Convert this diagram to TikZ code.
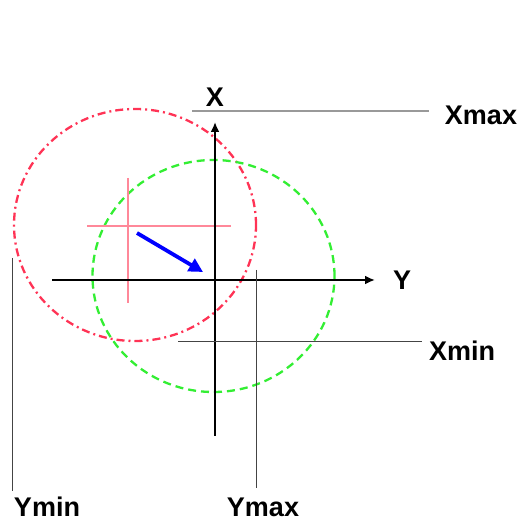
\documentclass[tikz,border=0pt]{standalone}
\usepackage{fontspec}
\setmainfont{Liberation Sans}
\usetikzlibrary{arrows.meta}
\definecolor{colRed}{HTML}{ff3355}
\definecolor{colCross}{HTML}{ff8899}
\definecolor{colGreen}{HTML}{33ee33}
\definecolor{colBlue}{HTML}{0000ff}
\definecolor{limcol}{HTML}{444444}
\definecolor{topcol}{HTML}{999999}
\begin{document}
\begin{tikzpicture}[x=1pt, y=1pt,
    lbl/.style={font=\fontsize{27}{30}\selectfont\bfseries, text=black, inner sep=0pt},
    axisline/.style={black, line width=2.8pt, -{Latex[length=10pt, width=9pt]}},
    limline/.style={limcol, line width=0.9pt}]
    \useasboundingbox (0,0) rectangle (519,524);
    % circles
    \draw[colRed, line width=2.3pt, dash pattern=on 8pt off 4pt on 2pt off 4pt]
      (135,299) ellipse [x radius=121, y radius=116];
    \draw[colGreen, line width=2.3pt, dash pattern=on 8pt off 5pt]
      (213.5,248) ellipse [x radius=121, y radius=116];
    % crosshair
    \coordinate (chL) at (87,298);
    \coordinate (chR) at (231,298);
    \coordinate (chT) at (128,346);
    \coordinate (chB) at (128,221);
    \draw[colCross, line width=1.2pt] (chL) -- (chR);
    \draw[colCross, line width=1.2pt] (chT) -- (chB);
    % axes
    \coordinate (xbot) at (215,88);
    \coordinate (xtop) at (215,402);
    \coordinate (yleft) at (52,244);
    \coordinate (yright) at (375,244);
    \draw[axisline] (xbot) -- (xtop);
    \draw[axisline] (yleft) -- (yright);
    \node[lbl] (xlab) at (215,427) {X};
    \node[lbl] (ylab) at (402,244) {Y};
    % shift
    \coordinate (shA) at (137,291);
    \coordinate (shB) at (203,252);
    \draw[colBlue, line width=3.8pt, -{Triangle[length=14pt, width=14pt]}] (shA) -- (shB);
    % limits
    \node[lbl] (xmax) at (481,409) {Xmax};
    \coordinate (xmaxL) at (192,413);
    \coordinate (xmaxR) at (429,413);
    \draw[topcol, line width=1.2pt] (xmaxL) -- (xmaxR);
    \node[lbl] (xmin) at (462,173) {Xmin};
    \coordinate (xminL) at (178,183);
    \coordinate (xminR) at (422,183);
    \draw[limline] (xminL) -- (xminR);
    \node[lbl] (ymax) at (263,17) {Ymax};
    \coordinate (ymaxT) at (256,254);
    \coordinate (ymaxB) at (256,36);
    \draw[limline] (ymaxT) -- (ymaxB);
    \node[lbl] (ymin) at (47,17) {Ymin};
    \coordinate (yminT) at (12.7,266);
    \coordinate (yminB) at (12.7,33);
    \draw[limline] (yminT) -- (yminB);
\end{tikzpicture}
\end{document}
